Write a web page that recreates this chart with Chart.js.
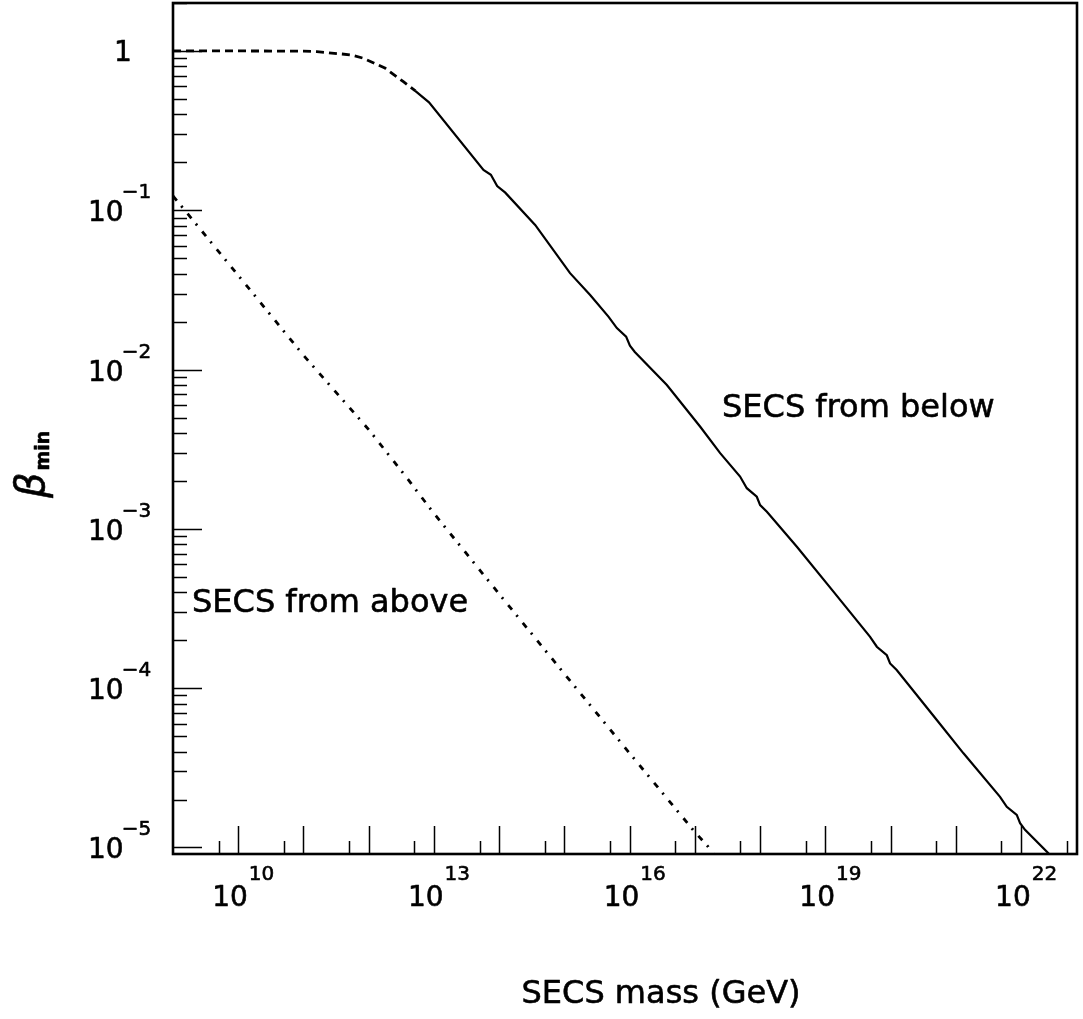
<!DOCTYPE html>
<html><head><meta charset="utf-8">
<script src="https://cdn.jsdelivr.net/npm/chart.js@4"></script>
<style>html,body{margin:0;padding:0;background:#fff;}canvas{display:block;}</style>
</head><body>
<canvas id="c" width="1083" height="1019"></canvas>
<script>
// ---- data ----
const belowDashedMass = [1e9, 1e10, 1e11, 1.6e11, 3.9e11, 5.6e11, 8.3e11, 1.8e12, 3.4e12, 5.2e12];
const belowDashedBeta = [1.0, 1.0, 0.998, 0.99, 0.957, 0.94, 0.90, 0.778, 0.641, 0.561];

const belowSolidMass = [5.16e12, 8.4e12, 5.74e13, 7.46e13, 9.31e13, 1.24e14, 3.56e14, 1.22e15, 2.48e15, 4.73e15,
  6.37e15, 8.83e15, 1.01e16, 1.20e16, 3.72e16, 1.20e17, 2.44e17, 4.93e17, 6.25e17, 8.89e17, 1.0e18, 1.27e18,
  3.66e18, 1.33e19, 4.85e19, 6.15e19, 8.75e19, 9.82e19, 1.24e20, 5.11e20, 1.31e21, 4.76e21, 6.04e21, 8.59e21,
  9.66e21, 1.15e22, 2.62e22, 3.2e22];
const belowSolidBeta = [0.561, 0.476, 0.179, 0.167, 0.142, 0.129, 0.0809, 0.0403, 0.0294, 0.0215,
  0.0182, 0.0161, 0.0141, 0.0129, 0.0080, 0.00439, 0.00299, 0.00213, 0.00180, 0.00159, 0.00141, 0.00128,
  7.73e-4, 4.04e-4, 2.10e-4, 1.82e-4, 1.61e-4, 1.43e-4, 1.30e-4, 6.31e-5, 3.90e-5, 2.08e-5, 1.80e-5, 1.60e-5,
  1.42e-5, 1.29e-5, 9.2e-6, 8.2e-6];

const aboveMass = [1e9, 1e10, 1e11, 1e12, 3.4e12, 1e13, 1e14, 1e15, 1e16, 1e17, 1.6e17, 2.2e17];
const aboveBeta = [0.123, 0.039, 0.0123, 0.0042, 0.00223, 0.00125, 3.9e-4, 1.23e-4, 3.9e-5, 1.25e-5, 1.01e-5, 8.4e-6];

// ---- axis ticks & labels ----
const xMin = 1e9, xMax = 7.2e22, yMin = 9.1e-6, yMax = 2;
const xLongTicks = [1e10, 1e11, 1e12, 1e13, 1e14, 1e15, 1e16, 1e17, 1e18, 1e19, 1e20, 1e21, 1e22];
const xShortTicks = [5e9, 5e10, 5e11, 5e12, 5e13, 5e14, 5e15, 5e16, 5e17, 5e18, 5e19, 5e20, 5e21, 5e22];
const xLabelValues = [1e10, 1e13, 1e16, 1e19, 1e22];
const xLabelExps = ['10', '13', '16', '19', '22'];
const yMajorTicks = [1, 1e-1, 1e-2, 1e-3, 1e-4, 1e-5];
const yMinorFactors = [2, 3, 4, 5, 6, 7, 8, 9];
const yLabelValues = [1, 1e-1, 1e-2, 1e-3, 1e-4, 1e-5];
const yLabelExps = ['', '\u22121', '\u22122', '\u22123', '\u22124', '\u22125'];
const xTitle = 'SECS mass (GeV)';
const yTitleMain = '\u03B2';
const yTitleSub = 'min';
const annotBelow = 'SECS from below';
const annotAbove = 'SECS from above';

const FONT = '"DejaVu Sans", sans-serif';

const pts = (xs, ys) => xs.map((v, i) => ({x: v, y: ys[i]}));

function txt(ctx, s, x, y) {
  ctx.fillText(s, x, y);
  ctx.strokeText(s, x, y);
}

const framePlugin = {
  id: 'frame',
  afterDraw(chart) {
    const {ctx, chartArea: a, scales: {x, y}} = chart;
    ctx.save();
    ctx.strokeStyle = '#000';
    ctx.fillStyle = '#000';
    ctx.lineWidth = 1.5;
    ctx.beginPath();
    xLongTicks.forEach(v => { const p = Math.round(x.getPixelForValue(v)) + 0.5; ctx.moveTo(p, a.bottom); ctx.lineTo(p, a.bottom - 28); });
    xShortTicks.forEach(v => { if (v > xMax) return; const p = Math.round(x.getPixelForValue(v)) + 0.5; ctx.moveTo(p, a.bottom); ctx.lineTo(p, a.bottom - 13); });
    yMajorTicks.forEach(v => { const p = Math.round(y.getPixelForValue(v)) + 0.5; ctx.moveTo(a.left, p); ctx.lineTo(a.left + 29, p); });
    for (let d = 1e-6; d <= 1.01; d *= 10) {
      yMinorFactors.forEach(f => {
        const v = d * f;
        if (v < yMin || v > yMax) return;
        const p = Math.round(y.getPixelForValue(v)) + 0.5;
        ctx.moveTo(a.left, p); ctx.lineTo(a.left + 14, p);
      });
    }
    ctx.stroke();
    // frame
    ctx.lineWidth = 2.6;
    ctx.strokeRect(a.left, a.top, a.right - a.left, a.bottom - a.top);

    ctx.lineWidth = 0.6;
    ctx.lineJoin = 'round';
    // y tick labels
    ctx.textAlign = 'left';
    ctx.textBaseline = 'alphabetic';
    yLabelValues.forEach((v, i) => {
      const p = y.getPixelForValue(v);
      if (yLabelExps[i] === '') {
        ctx.font = '28px ' + FONT;
        ctx.textAlign = 'center';
        txt(ctx, '1', 123, p + 10);
        ctx.textAlign = 'left';
      } else {
        ctx.font = '28px ' + FONT;
        txt(ctx, '10', 88, p + 11);
        const w = ctx.measureText('10').width;
        ctx.font = '20px ' + FONT;
        txt(ctx, yLabelExps[i], 88 + w - 2, p - 12);
      }
    });
    // x tick labels
    xLabelValues.forEach((v, i) => {
      const p = x.getPixelForValue(v);
      ctx.font = '28px ' + FONT;
      txt(ctx, '10', p - 26, 906);
      const w = ctx.measureText('10').width;
      ctx.font = '20px ' + FONT;
      txt(ctx, xLabelExps[i], p - 26 + w + 1, 880);
    });
    // titles
    ctx.font = '32px ' + FONT;
    ctx.textAlign = 'center';
    txt(ctx, xTitle, 661, 1003);
    ctx.textAlign = 'left';
    txt(ctx, annotBelow, 722, 417);
    txt(ctx, annotAbove, 192, 612);
    // rotated y title
    ctx.save();
    ctx.translate(44, 498);
    ctx.rotate(-Math.PI / 2);
    ctx.font = 'italic 40px ' + FONT;
    txt(ctx, yTitleMain, 0, 0);
    const bw = ctx.measureText(yTitleMain).width;
    ctx.font = 'bold 19px ' + FONT;
    txt(ctx, yTitleSub, bw + 2, 5);
    ctx.restore();
    ctx.restore();
  }
};

new Chart(document.getElementById('c'), {
  type: 'line',
  data: {
    datasets: [
      { label: 'from below (dashed)', data: pts(belowDashedMass, belowDashedBeta), borderColor: '#000', borderWidth: 2.8, borderDash: [8, 5], pointRadius: 0, fill: false },
      { label: 'SECS from below', data: pts(belowSolidMass, belowSolidBeta), borderColor: '#000', borderWidth: 2.2, pointRadius: 0, fill: false },
      { label: 'SECS from above', data: pts(aboveMass, aboveBeta), borderColor: '#000', borderWidth: 2.8, borderDash: [6, 7, 2, 8], pointRadius: 0, fill: false }
    ]
  },
  options: {
    responsive: false,
    animation: false,
    devicePixelRatio: 1,
    layout: { padding: { left: 173, top: 3, right: 6, bottom: 165 } },
    plugins: { legend: { display: false }, tooltip: { enabled: false } },
    scales: {
      x: { type: 'logarithmic', min: xMin, max: xMax, display: false },
      y: { type: 'logarithmic', min: yMin, max: yMax, display: false }
    }
  },
  plugins: [framePlugin]
});
</script>
</body></html>
